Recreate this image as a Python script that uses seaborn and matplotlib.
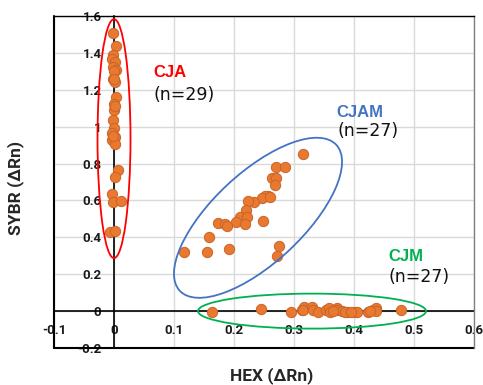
import numpy as np
import pandas as pd
import seaborn as sns
import matplotlib
matplotlib.use("Agg")
import matplotlib.pyplot as plt
from matplotlib.patches import Ellipse
from matplotlib.transforms import ScaledTranslation

# ---------------- data ----------------
cja_x = [-0.002, 0.003, -0.002, -0.003, 0.001, -0.002, 0.003, -0.001, 0.002,
         0.004, 0.000, 0.000, -0.001, 0.000, -0.003, 0.001, -0.003, 0.002,
         0.006, 0.002, -0.003, -0.001, 0.012, -0.006, 0.001,
         0.000, 0.001, -0.001, 0.000]
cja_y = [1.51, 1.44, 1.391, 1.369, 1.351, 1.324, 1.306, 1.256, 1.243,
         1.159, 1.123, 1.090, 1.036, 0.991, 0.964, 0.946, 0.928, 0.905,
         0.766, 0.727, 0.636, 0.591, 0.595, 0.429, 0.436,
         1.300, 1.110, 0.950, 1.260]

cjam_x = [0.3145, 0.270, 0.285, 0.263, 0.270, 0.269, 0.257, 0.252, 0.247,
          0.234, 0.223, 0.2195, 0.210, 0.221, 0.203, 0.218, 0.248, 0.174,
          0.185, 0.189, 0.159, 0.117, 0.1555, 0.1922, 0.275, 0.271, 0.260]
cjam_y = [0.852, 0.784, 0.784, 0.721, 0.721, 0.683, 0.622, 0.625, 0.611,
          0.589, 0.595, 0.546, 0.510, 0.508, 0.485, 0.470, 0.486, 0.479,
          0.472, 0.463, 0.402, 0.321, 0.321, 0.339, 0.351, 0.301, 0.620]

cjm_x = [0.163, 0.2445, 0.295, 0.3128, 0.317, 0.3145, 0.330, 0.331, 0.3395,
         0.3533, 0.3589, 0.360, 0.3711, 0.372, 0.3794, 0.3889, 0.4017, 0.4055,
         0.424, 0.431, 0.4367, 0.4367, 0.478, 0.365, 0.385, 0.395, 0.427]
cjm_y = [-0.003, 0.013, -0.005, 0.005, 0.024, 0.005, 0.024, 0.005, -0.005,
         0.005, 0.016, -0.005, 0.018, 0.005, 0.000, -0.005, -0.005, -0.005,
         -0.005, 0.005, 0.018, 0.000, 0.005, 0.002, -0.003, -0.004, 0.000]

groups = ["CJA", "CJAM", "CJM"]
counts = ["(n=29)", "(n=27)", "(n=27)"]
group_colors = ["#FF0000", "#4472C4", "#00B050"]

x_ticks = [-0.1, 0.0, 0.1, 0.2, 0.3, 0.4, 0.5, 0.6]
y_ticks = [-0.2, 0.0, 0.2, 0.4, 0.6, 0.8, 1.0, 1.2, 1.4, 1.6]

df = pd.DataFrame({
    "HEX": cja_x + cjam_x + cjm_x,
    "SYBR": cja_y + cjam_y + cjm_y,
    "group": ["CJA"] * len(cja_x) + ["CJAM"] * len(cjam_x) + ["CJM"] * len(cjm_x),
})

# ---------------- figure ----------------
sns.set_style("white")
plt.rcParams["font.family"] = ["Roboto", "DejaVu Sans"]

fig = plt.figure(figsize=(4.83, 3.85), dpi=100)
ax = fig.add_axes([54 / 483, 1 - 348 / 385, 420 / 483, 332 / 385])

ax.set_xlim(-0.1, 0.6)
ax.set_ylim(-0.2, 1.6)

for xv in x_ticks:
    ax.axvline(xv, color="#D9D9D9", lw=1.0, zorder=0)
for yv in y_ticks:
    ax.axhline(yv, color="#D9D9D9", lw=1.0, zorder=0)

sns.scatterplot(data=df, x="HEX", y="SYBR", ax=ax, color="#E8792F",
                edgecolor="#C8642A", linewidth=0.7, s=55, zorder=3, legend=False)

# axes crossing at zero (Excel style)
ax.spines["left"].set_position(("data", 0))
ax.spines["bottom"].set_position(("data", 0))
for sp in ["left", "bottom"]:
    ax.spines[sp].set_color("black")
    ax.spines[sp].set_linewidth(1.2)
    ax.spines[sp].set_zorder(2)
ax.spines["top"].set_color("black")
ax.spines["top"].set_linewidth(1.0)
ax.spines["right"].set_color("#808080")
ax.spines["right"].set_linewidth(1.0)
ax.axvline(-0.1, color="black", lw=1.5, clip_on=False, zorder=2)
ax.axhline(-0.2, color="black", lw=1.5, clip_on=False, zorder=2)

ax.set_xticks(x_ticks)
ax.set_yticks(y_ticks)
ax.set_xticklabels([f"{v:g}" for v in x_ticks])
ax.set_yticklabels([f"{v:g}" for v in y_ticks])
ax.tick_params(axis="x", length=0, pad=9)
ax.tick_params(axis="y", length=0, pad=9)
for lab in ax.get_xticklabels() + ax.get_yticklabels():
    lab.set_fontweight("bold")
    lab.set_fontsize(9.5)
    lab.set_color("#1a1a1a")
ax.set_xlabel("")
ax.set_ylabel("")

# ellipses (sizes in inches, centred in data coords)
ell_specs = [
    # (cx, cy, width_px, height_px, angle)
    (0.0, 0.935, 33, 239, 0),
    (0.24, 0.506, 214, 90, 43),
    (0.33, 0.0, 228, 35, 0),
]
for (cx, cy, w, h, ang), col in zip(ell_specs, group_colors):
    tr = fig.dpi_scale_trans + ScaledTranslation(cx, cy, ax.transData)
    e = Ellipse((0, 0), w / 100, h / 100, angle=ang, transform=tr,
                fill=False, edgecolor=col, lw=1.3, zorder=4)
    ax.add_patch(e)

# group labels
label_pos = [(0.065, 1.269, 1.142), (0.371, 1.054, 0.952), (0.457, 0.270, 0.158)]
for (lx, ly1, ly2), g, c, col in zip(label_pos, groups, counts, group_colors):
    ax.text(lx, ly1, g, color=col, fontsize=12, fontweight="bold",
            family=["Liberation Sans", "DejaVu Sans"], va="baseline", ha="left", zorder=5)
    ax.text(lx + 0.001, ly2, c, color="#111111", fontsize=12.5,
            family=["DejaVu Sans"], va="baseline", ha="left", zorder=5)

fig.text(272 / 483, 1 - 376 / 385, "HEX (\u0394Rn)", fontsize=12.5, fontweight="bold",
         ha="center", va="center")
fig.text(16 / 483, 1 - 188 / 385, "SYBR (\u0394Rn)", fontsize=12.5, fontweight="bold",
         ha="center", va="center", rotation=90)

fig.savefig("out.png", dpi=100)
